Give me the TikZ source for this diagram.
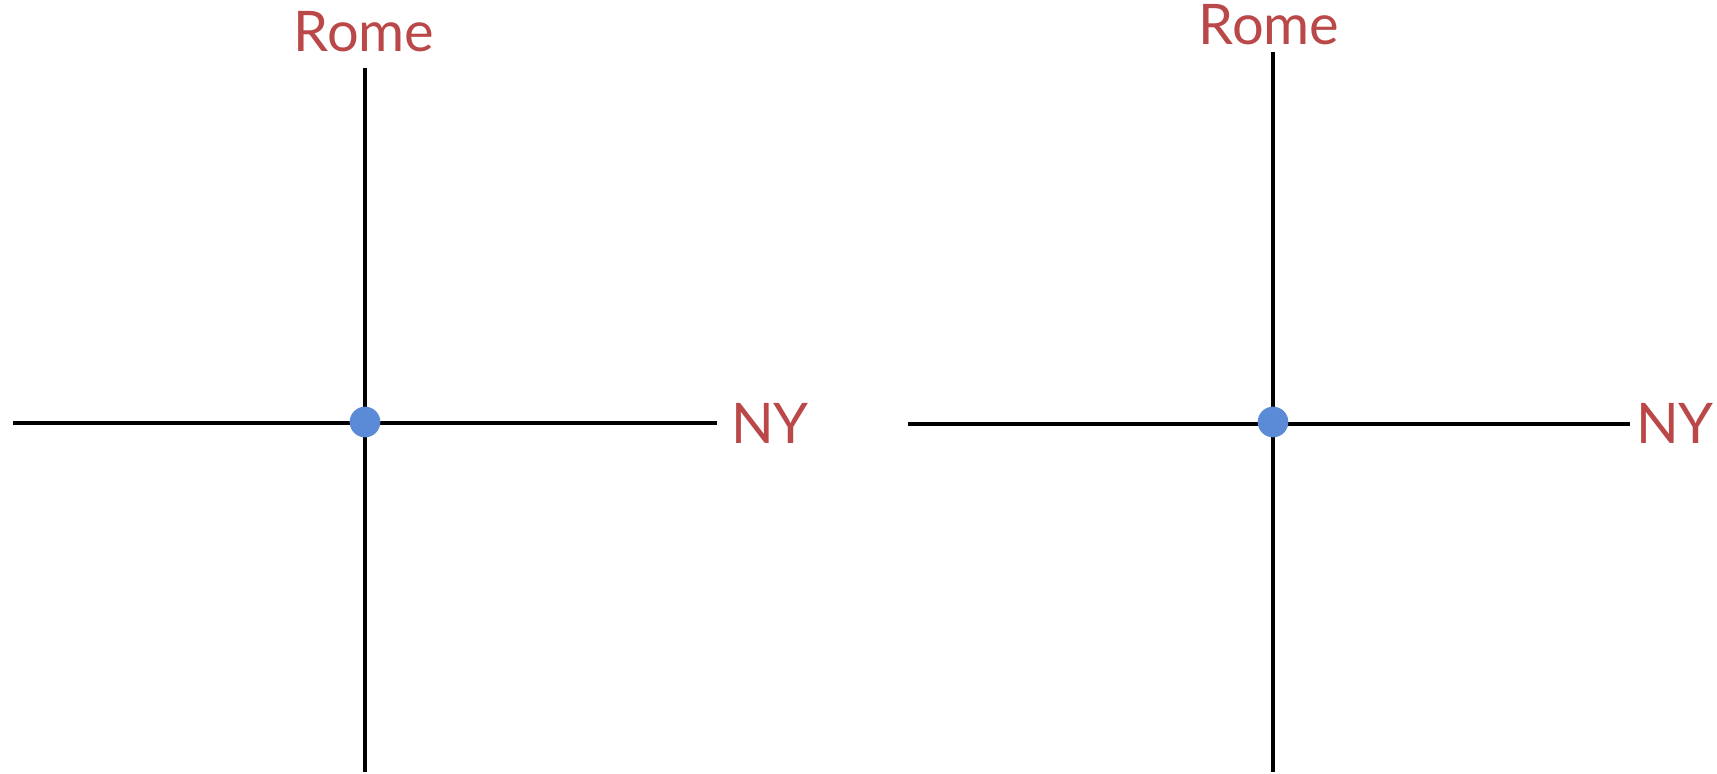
\documentclass[tikz,border=0pt]{standalone}
\usepackage{fontspec}
\setmainfont{Lato}
\definecolor{cityred}{RGB}{186,72,72}
\definecolor{dotblue}{RGB}{91,138,214}
\tikzset{every picture/.style={line width=3pt}}
\tikzset{
  city/.style={text=cityred, inner sep=0pt, font=\fontsize{42}{46}\selectfont},
  axisline/.style={draw=black, line cap=butt},
  origin/.style={circle, fill=dotblue, draw=none, minimum size=23pt, inner sep=0pt}
}
\begin{document}
\begin{tikzpicture}[x=0.75pt,y=0.75pt,yscale=-1,xscale=1]
\useasboundingbox (0,0) rectangle (1717,774);

%Left cross
\coordinate (lw) at (13,423);
\coordinate (le) at (717,423);
\coordinate (ln) at (365,68);
\coordinate (ls) at (365,772);
%Straight Lines
\draw[axisline] (lw) -- (le) ;
%Straight Lines
\draw[axisline] (ln) -- (ls) ;
%Shape: Circle
\node[origin] (lo) at (365,422) {};
%Text
\node[city, anchor=base] (lrome) at (364,52) {Rome};
\node[city, anchor=base west] (lny) at (729,443) {NY};

%Right cross
\coordinate (rw) at (908,424);
\coordinate (re) at (1630,424);
\coordinate (rn) at (1273,52);
\coordinate (rs) at (1273,772);
%Straight Lines
\draw[axisline] (rw) -- (re) ;
%Straight Lines
\draw[axisline] (rn) -- (rs) ;
%Shape: Circle
\node[origin] (ro) at (1273,422) {};
%Text
\node[city, anchor=base] (rrome) at (1269,45) {Rome};
\node[city, anchor=base west] (rny) at (1634,443) {NY};

\end{tikzpicture}
\end{document}
